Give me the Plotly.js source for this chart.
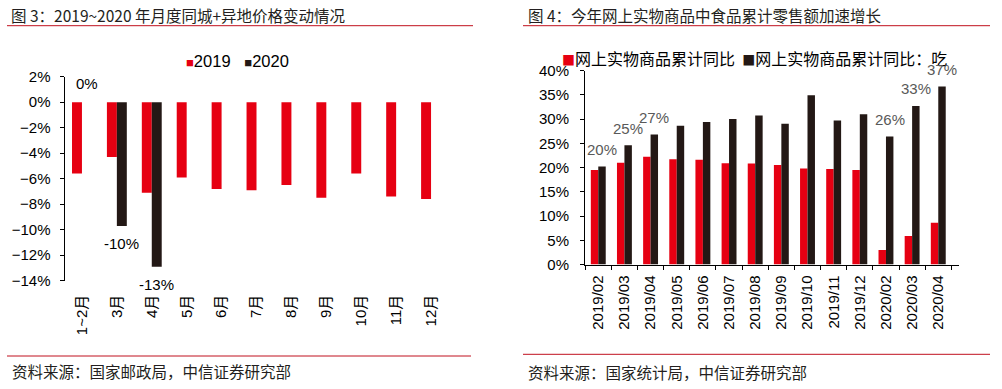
<!DOCTYPE html>
<html>
<head>
<meta charset="utf-8">
<script src="https://cdn.plot.ly/plotly-3.0.1.min.js"></script>
<style>
html,body{margin:0;padding:0;background:#fff;}
#chart{width:1002px;height:389px;}
</style>
</head>
<body>
<div id="chart"></div>
<script>
// ---------- data ----------
const leftCats = ['1~2月','3月','4月','5月','6月','7月','8月','9月','10月','11月','12月'];
const left2019 = [-5.6,-4.3,-7.1,-5.9,-6.8,-6.9,-6.5,-7.5,-5.6,-7.4,-7.6];
const left2020 = [0,-9.7,-12.9,null,null,null,null,null,null,null,null];
const left2020Labels = ['0%','-10%','-13%'];
const leftNames = ['2019','2020'];

const rightCats = ['2019/02','2019/03','2019/04','2019/05','2019/06','2019/07','2019/08','2019/09','2019/10','2019/11','2019/12','2020/02','2020/03','2020/04'];
const rightTotal = [19.5,21.0,22.2,21.7,21.6,20.9,20.8,20.5,19.8,19.7,19.5,3.0,5.9,8.6];
const rightFood = [20.2,24.6,26.8,28.6,29.4,30.0,30.7,29.0,34.9,29.7,31.0,26.4,32.7,36.7];
const rightLabelIdx = [0,1,2,11,12,13];
const rightNames = ['网上实物商品累计同比','网上实物商品累计同比：吃'];

const titleLeft = '图 3：2019~2020 年月度同城+异地价格变动情况';
const titleRight = '图 4：今年网上实物商品中食品累计零售额加速增长';
const sourceLeft = '资料来源：国家邮政局，中信证券研究部';
const sourceRight = '资料来源：国家统计局，中信证券研究部';

// ---------- style ----------
const W = 1002, H = 389;
const RED = '#e60012', DARK = '#231815', RULE = '#c0101e';
const FONT = 'Liberation Sans, Arial, Noto Sans CJK SC, sans-serif';
const CJK = 'Noto Sans CJK SC, Liberation Sans, sans-serif';
const px = x => x / W;
const py = y => 1 - y / H;
const BARGAP = 0.43;
const off = (1 - BARGAP) / 4;

const traces = [
  {type:'bar', name:leftNames[0], x:leftCats, y:left2019, marker:{color:RED}, xaxis:'x', yaxis:'y', showlegend:false, hoverinfo:'skip'},
  {type:'bar', name:leftNames[1], x:leftCats, y:left2020, marker:{color:DARK}, xaxis:'x', yaxis:'y', showlegend:false, hoverinfo:'skip'},
  {type:'bar', name:rightNames[0], x:rightCats, y:rightTotal, marker:{color:RED}, xaxis:'x2', yaxis:'y2', showlegend:false, hoverinfo:'skip'},
  {type:'bar', name:rightNames[1], x:rightCats, y:rightFood, marker:{color:DARK}, xaxis:'x2', yaxis:'y2', showlegend:false, hoverinfo:'skip'}
];

const leftY = [py(280.7), py(76.7)];
const rightY = [py(264.5), py(70.5)];
const leftX = [px(64.5), px(448.5)];
const rightX = [px(585), px(959)];
const zeroPos = leftY[0] + (14/16) * (leftY[1] - leftY[0]);

const tickFont = {family:FONT, size:15, color:'#000'};

const annotations = [];
// titles
annotations.push({text:titleLeft, xref:'paper', yref:'paper', x:px(9), y:py(15), xanchor:'left', yanchor:'middle', showarrow:false, font:{family:CJK, size:15.5, color:'#231f20'}});
annotations.push({text:titleRight, xref:'paper', yref:'paper', x:px(526), y:py(15), xanchor:'left', yanchor:'middle', showarrow:false, font:{family:CJK, size:15.5, color:'#231f20'}});
// sources
annotations.push({text:sourceLeft, xref:'paper', yref:'paper', x:px(10), y:py(371), xanchor:'left', yanchor:'middle', showarrow:false, font:{family:CJK, size:15.5, color:'#231f20'}});
annotations.push({text:sourceRight, xref:'paper', yref:'paper', x:px(526), y:py(372), xanchor:'left', yanchor:'middle', showarrow:false, font:{family:CJK, size:15.5, color:'#231f20'}});
// legends
const sq = c => '<span style="color:' + c + ';font-size:13px">■</span>';
annotations.push({text: sq(RED) + leftNames[0] + '   ' + sq(DARK) + leftNames[1], xref:'paper', yref:'paper', x:px(184), y:py(61), xanchor:'left', yanchor:'middle', showarrow:false, font:{family:FONT, size:16.5, color:'#000'}});
annotations.push({text: sq(RED) + rightNames[0] + '  ' + sq(DARK) + rightNames[1], xref:'paper', yref:'paper', x:px(560), y:py(58), xanchor:'left', yanchor:'middle', showarrow:false, font:{family:CJK, size:16, color:'#000'}});
// data labels left (2020)
left2020Labels.forEach((t, i) => {
  const v = left2020[i];
  annotations.push({text:t, xref:'x', yref:'y', x:i + off, y:v, yshift: v < 0 ? -18 : 19, xanchor:'center', yanchor:'middle', showarrow:false, font:{family:FONT, size:15, color:'#000'}});
});
// data labels right (food)
rightLabelIdx.forEach(i => {
  annotations.push({text:Math.round(rightFood[i]) + '%', xref:'x2', yref:'y2', x:i + off, y:rightFood[i], yshift:17, xanchor:'center', yanchor:'middle', showarrow:false, font:{family:FONT, size:15, color:'#595959'}});
});

const shapes = [
  {type:'line', xref:'paper', yref:'paper', x0:px(7), x1:px(473), y0:py(25.7), y1:py(25.7), line:{color:RULE, width:1}},
  {type:'line', xref:'paper', yref:'paper', x0:px(523), x1:px(990), y0:py(25.7), y1:py(25.7), line:{color:RULE, width:1}},
  {type:'line', xref:'paper', yref:'paper', x0:px(7), x1:px(471), y0:py(356), y1:py(356), line:{color:RULE, width:1}},
  {type:'line', xref:'paper', yref:'paper', x0:px(523), x1:px(990), y0:py(354.3), y1:py(354.3), line:{color:RULE, width:1}}
];

const layout = {
  width:W, height:H,
  margin:{l:0, r:0, t:0, b:0},
  paper_bgcolor:'#fff', plot_bgcolor:'rgba(0,0,0,0)',
  barmode:'group', bargap:BARGAP, bargroupgap:0,
  showlegend:false,
  font:{family:FONT, size:15, color:'#000'},
  xaxis:{domain:leftX, anchor:'y', type:'category', showline:false, ticks:'', showgrid:false, zeroline:false,
         tickangle:-90, tickfont:tickFont, ticklabelstandoff:10, fixedrange:true},
  xaxis3:{domain:leftX, overlaying:'x', anchor:'free', position:zeroPos, type:'linear', range:[-0.5, leftCats.length - 0.5],
          tick0:-0.5, dtick:1, ticks:'outside', ticklen:4, tickcolor:'#000', showticklabels:false, showline:true,
          linecolor:'#000', linewidth:1, showgrid:false, zeroline:false, fixedrange:true},
  yaxis:{domain:leftY, anchor:'x', range:[-14, 2], dtick:2, ticksuffix:'%', showline:true, linecolor:'#000', linewidth:1,
         ticks:'outside', ticklen:4, tickcolor:'#000', showgrid:false, zeroline:false, tickfont:tickFont, ticklabelstandoff:6, fixedrange:true},
  xaxis2:{domain:rightX, anchor:'y2', type:'category', showline:true, linecolor:'#000', linewidth:1, ticks:'outside', tickson:'boundaries',
          ticklen:4, tickcolor:'#000', showgrid:false, zeroline:false, tickangle:-90, tickfont:tickFont, ticklabelstandoff:4, fixedrange:true},
  yaxis2:{domain:rightY, anchor:'x2', range:[0, 40], dtick:5, ticksuffix:'%', showline:true, linecolor:'#000', linewidth:1,
          ticks:'outside', ticklen:4, tickcolor:'#000', showgrid:false, zeroline:false, tickfont:tickFont, ticklabelstandoff:8, fixedrange:true},
  annotations:annotations,
  shapes:shapes
};

Plotly.newPlot('chart', traces, layout, {staticPlot:true, displayModeBar:false});
</script>
</body>
</html>
